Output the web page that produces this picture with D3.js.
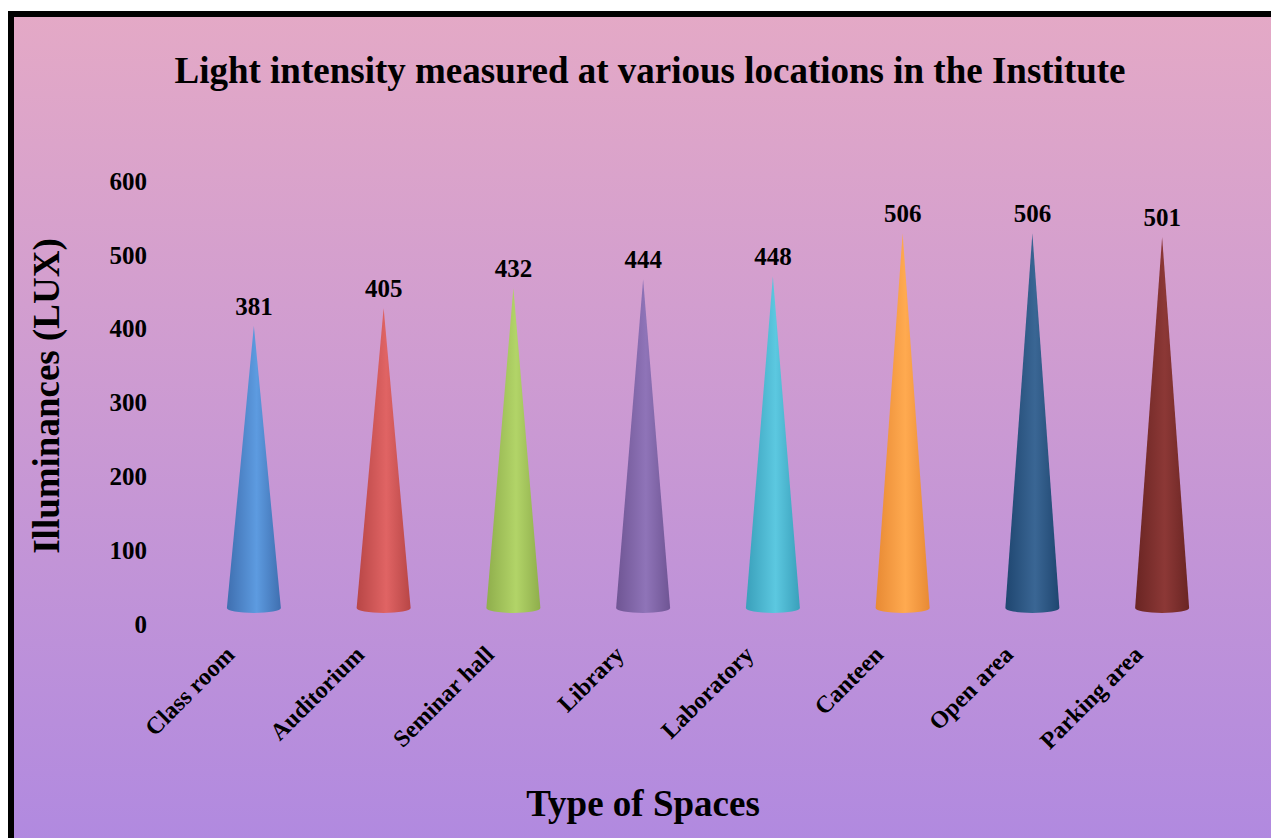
<html>
<head>
<meta charset="utf-8">
<script src="https://d3js.org/d3.v7.min.js"></script>
<style>
	body { margin: 0; background: #fff; }
	text { font-family: 'Liberation Serif', 'Times New Roman', serif; font-weight: bold; fill: #000; }
</style>
</head>
<body>
<svg id="svg" width="1271" height="838"></svg>
<script>
'use strict';

const width = 1271;
const height = 838;

const categories = ['Class room', 'Auditorium', 'Seminar hall', 'Library', 'Laboratory', 'Canteen', 'Open area', 'Parking area'];
const values = [381, 405, 432, 444, 448, 506, 506, 501];
const yTicks = [0, 100, 200, 300, 400, 500, 600];
// edge / mid colour of each cone
const darkColors = ['#3f6fb0', '#b84646', '#8fae4c', '#6f5594', '#3aa0bb', '#e88a34', '#1f4670', '#6a2523'];
const lightColors = ['#5d9be0', '#e06464', '#b2d468', '#8f74b8', '#5cc8e0', '#ffaa50', '#3a6694', '#8c3836'];

const svg = d3.select('#svg');
const defs = svg.append('defs');

const bg = defs.append('linearGradient').attr('id', 'bg')
	.attr('x1', 0).attr('y1', 0).attr('x2', 0).attr('y2', 1);
bg.append('stop').attr('offset', '0%').attr('stop-color', '#e4a9c6');
bg.append('stop').attr('offset', '100%').attr('stop-color', '#b089e0');

svg.append('rect')
	.attr('x', 11).attr('y', 14)
	.attr('width', width).attr('height', height)
	.attr('fill', 'url(#bg)')
	.attr('stroke', '#000')
	.attr('stroke-width', 6);

const x = d3.scaleBand().domain(categories).range([189, 1227]);
const y = d3.scaleLinear().domain([0, 600]).range([624, 181]);
const depth = 17;
const halfW = 27;
const ry = 5;

categories.forEach((c, i) => {
	const g = defs.append('linearGradient').attr('id', 'cone' + i)
		.attr('x1', 0).attr('y1', 0).attr('x2', 1).attr('y2', 0);
	g.append('stop').attr('offset', '0%').attr('stop-color', darkColors[i]);
	g.append('stop').attr('offset', '55%').attr('stop-color', lightColors[i]);
	g.append('stop').attr('offset', '100%').attr('stop-color', darkColors[i]);
});

// title
svg.append('text')
	.attr('x', 650).attr('y', 83)
	.attr('text-anchor', 'middle')
	.style('font-size', '37px')
	.text('Light intensity measured at various locations in the Institute');

// y axis tick labels
svg.append('g').selectAll('text')
	.data(yTicks)
	.join('text')
	.attr('x', 147)
	.attr('y', d => y(d))
	.attr('dy', '0.35em')
	.attr('text-anchor', 'end')
	.style('font-size', '25px')
	.text(d => d);

// y axis title
svg.append('text')
	.attr('transform', 'translate(59,396) rotate(-90)')
	.attr('text-anchor', 'middle')
	.style('font-size', '37px')
	.text('Illuminances (LUX)');

// cones
const data = categories.map((c, i) => ({c, v: values[i], i}));
svg.append('g').selectAll('path')
	.data(data)
	.join('path')
	.attr('fill', d => `url(#cone${d.i})`)
	.attr('d', d => {
		const cx = x(d.c) + x.bandwidth() / 2;
		const base = y(0) - depth + 1;
		const tip = y(d.v) - depth;
		return `M${cx - halfW},${base} L${cx},${tip} L${cx + halfW},${base} A${halfW},${ry} 0 0 1 ${cx - halfW},${base} Z`;
	});

// value labels
svg.append('g').selectAll('text')
	.data(data)
	.join('text')
	.attr('x', d => x(d.c) + x.bandwidth() / 2)
	.attr('y', d => y(d.v) - depth - 11)
	.attr('text-anchor', 'middle')
	.style('font-size', '25px')
	.text(d => d.v);

// category labels
svg.append('g').selectAll('text')
	.data(categories)
	.join('text')
	.attr('transform', d => `translate(${x(d) + x.bandwidth() / 2 - 18},${656}) rotate(-45)`)
	.attr('text-anchor', 'end')
	.style('font-size', '24px')
	.text(d => d);

// x axis title
svg.append('text')
	.attr('x', 643).attr('y', 816)
	.attr('text-anchor', 'middle')
	.style('font-size', '37px')
	.text('Type of Spaces');
</script>
</body>
</html>
